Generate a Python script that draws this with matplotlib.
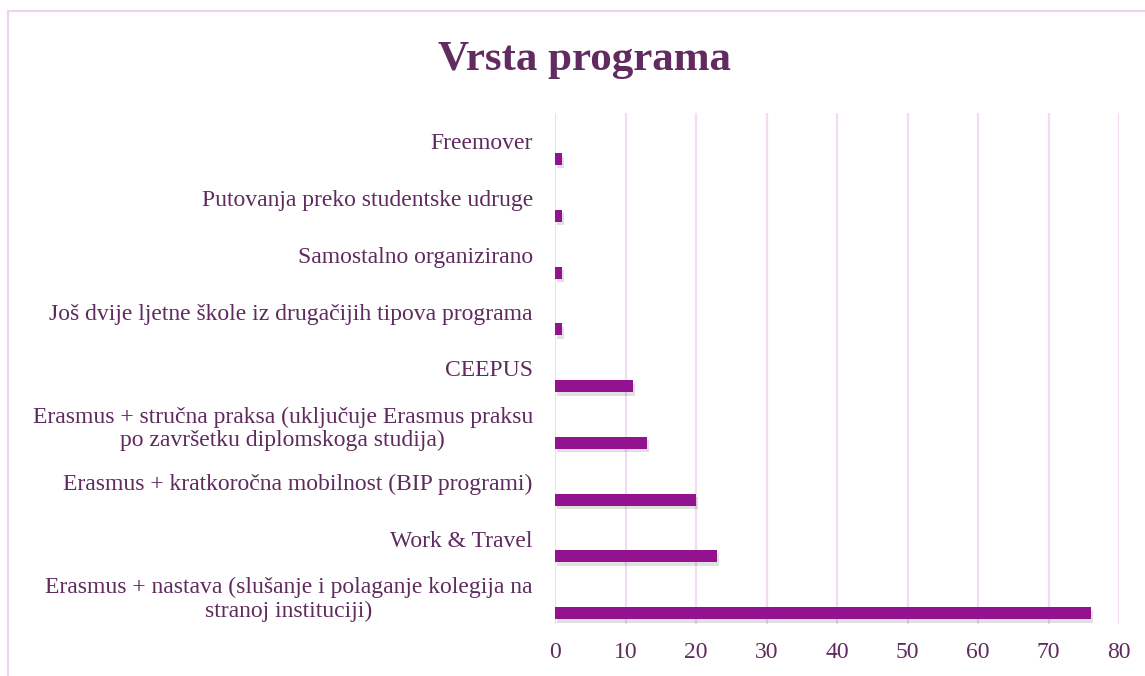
import matplotlib
matplotlib.use("Agg")
import matplotlib.pyplot as plt
import matplotlib.patheffects as pe
from matplotlib.patches import Rectangle
import numpy as np

categories = [
    "Erasmus + nastava (slušanje i polaganje kolegija na\nstranoj instituciji)",
    "Work & Travel",
    "Erasmus + kratkoročna mobilnost (BIP programi)",
    "Erasmus + stručna praksa (uključuje Erasmus praksu\npo završetku diplomskoga studija)",
    "CEEPUS",
    "Još dvije ljetne škole iz drugačijih tipova programa",
    "Samostalno organizirano",
    "Putovanja preko studentske udruge",
    "Freemover",
]
values = [76, 23, 20, 13, 11, 1, 1, 1, 1]
xticks = [0, 10, 20, 30, 40, 50, 60, 70, 80]
title = "Vrsta programa"

W, H = 1145, 676
fig = plt.figure(figsize=(W / 100, H / 100), dpi=100)
fig.patch.set_facecolor("white")

# frame border (left and top visible)
fig.add_artist(Rectangle((8 / W, -0.1), 1.2, 1 - 11 / H + 0.1,
                         transform=fig.transFigure, fill=False,
                         edgecolor="#EBD5EB", linewidth=1.6))

ax = fig.add_axes([555 / W, 1 - 624 / H, (1119 - 555) / W, (624 - 113) / H])
pos = np.arange(len(categories))
text_color = "#5F2B5E"
bar_color = "#92128F"

bars = ax.barh(pos - 0.31, values, height=0.21, color=bar_color, zorder=3)
for b in bars:
    b.set_path_effects([pe.SimplePatchShadow(offset=(1.5, -2.5), shadow_rgbFace="#000000", alpha=0.12),
                        pe.Normal()])

ax.set_xlim(0, 80)
ax.set_ylim(-0.5, len(categories) - 0.5)
ax.set_xticks(xticks)
ax.set_xticklabels([str(t) for t in xticks], fontsize=17, color=text_color,
                   family="Liberation Serif")
ax.set_yticks(pos)
ax.set_yticklabels(categories, fontsize=17, color=text_color,
                   family="Liberation Serif")
for lbl in ax.get_yticklabels():
    lbl.set_multialignment("center")
    lbl.set_linespacing(1.15)
ax.tick_params(axis="both", length=0)
ax.tick_params(axis="y", pad=16)
ax.tick_params(axis="x", pad=13)
ax.grid(axis="x", color="#F0DDF0", linewidth=1.6, zorder=0)
ax.set_axisbelow(True)
for s in ax.spines.values():
    s.set_visible(False)

fig.text(585 / W, 1 - 60 / H, title, ha="center", va="center",
         fontsize=31, fontweight="bold", color="#622B60", family="Liberation Serif")

fig.savefig("out.png", dpi=100)
